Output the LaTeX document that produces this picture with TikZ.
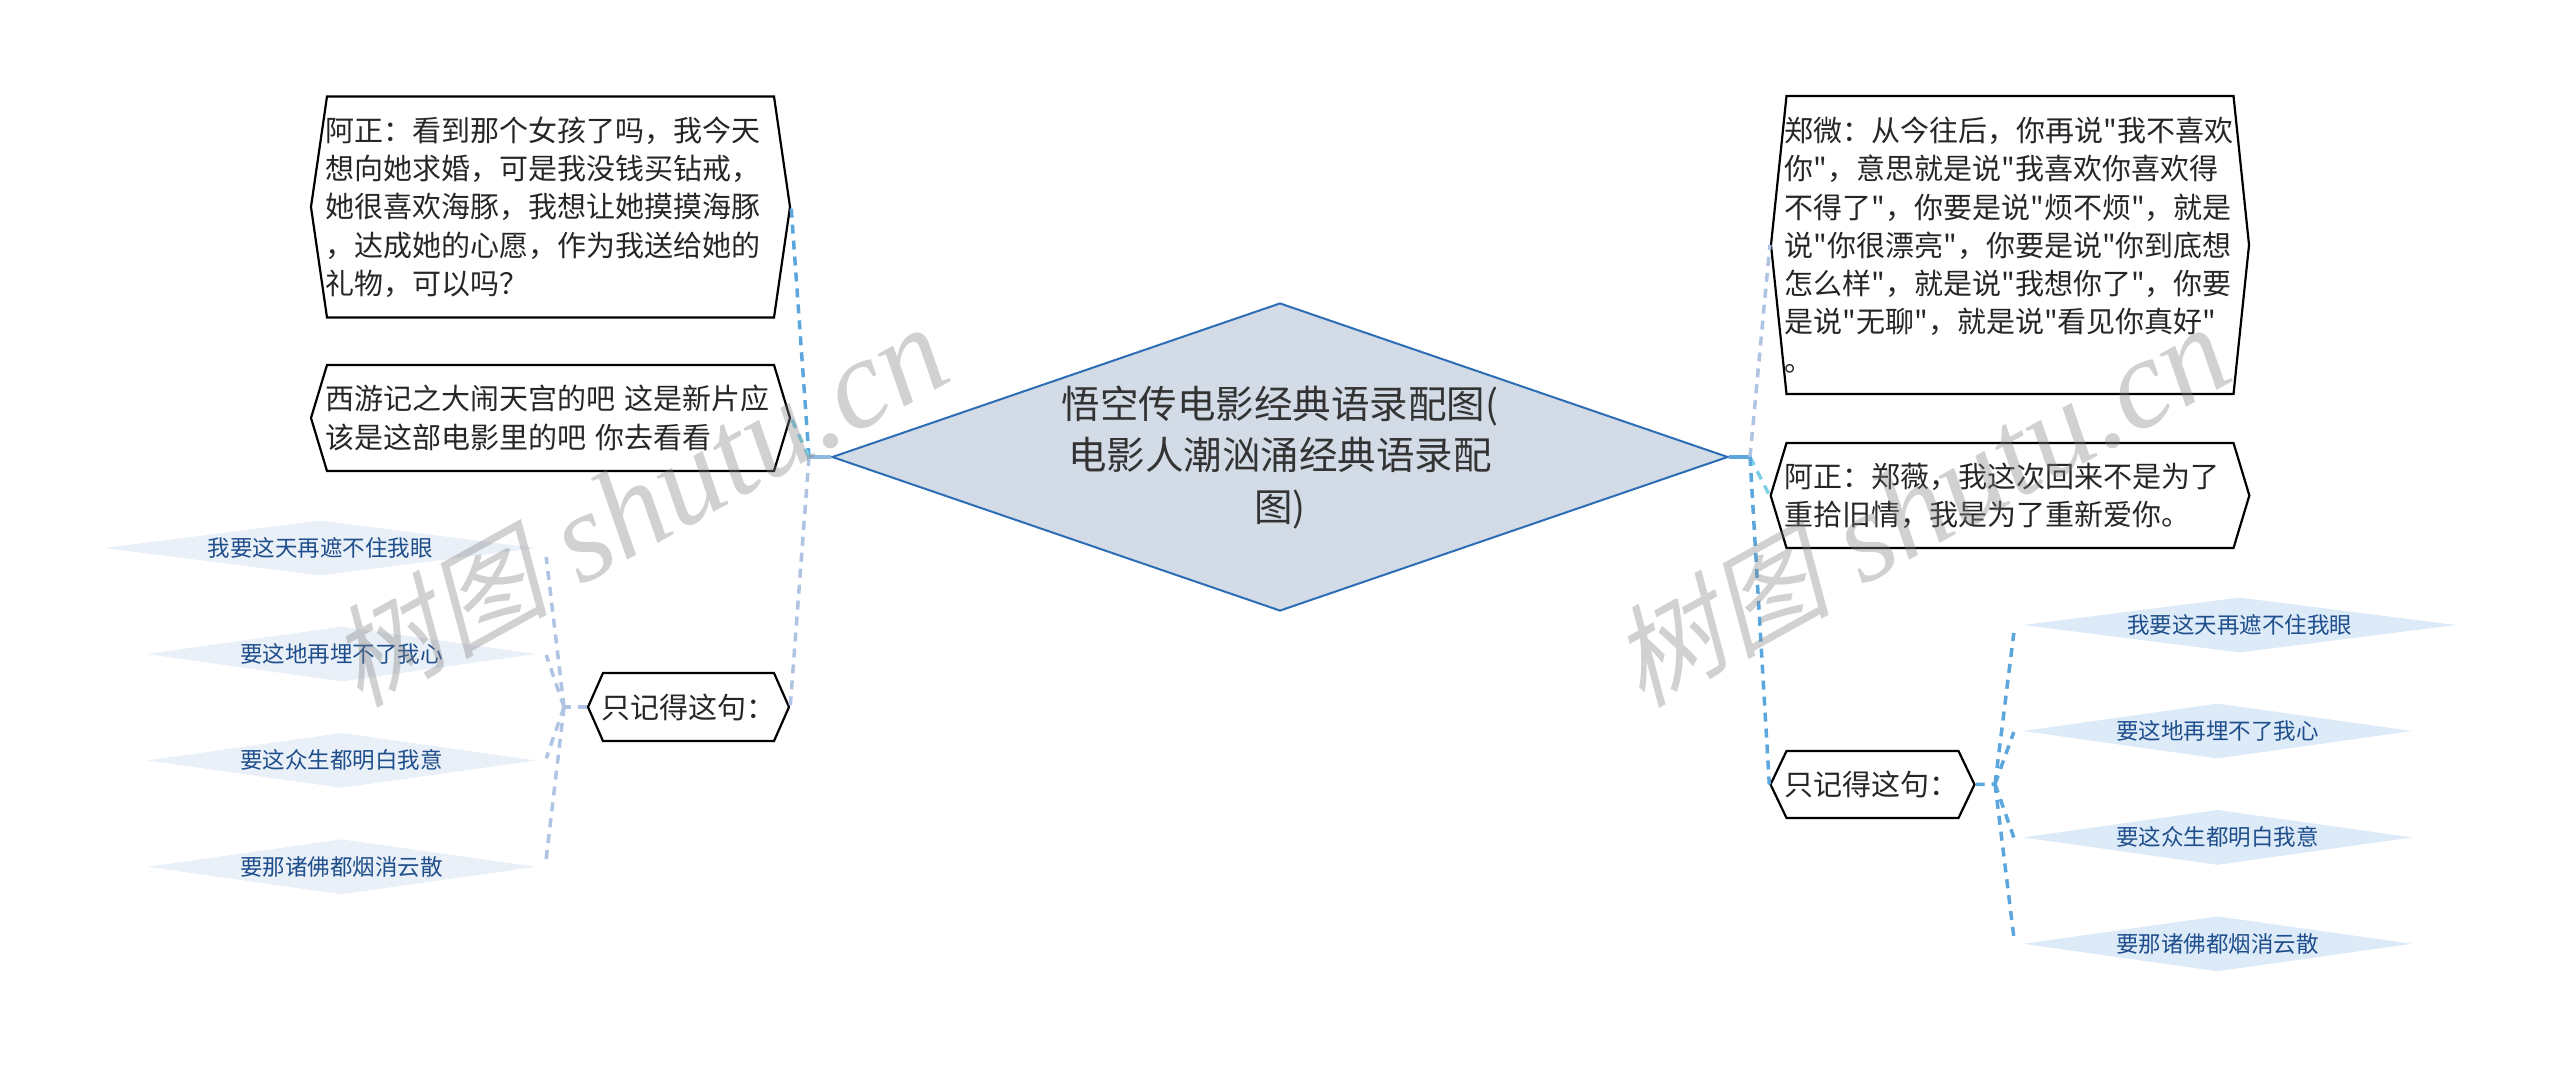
\documentclass[tikz,border=0pt]{standalone}
\usepackage{fontspec}
\usepackage{tikz}
\usetikzlibrary{positioning,shapes.geometric,shapes.symbols}
\newfontfamily\cjk{Noto Sans CJK SC}
\newfontfamily\cjkslant[FakeSlant=.25]{Noto Sans CJK SC}
\newfontfamily\wmlatin{Liberation Serif}
\definecolor{rootfill}{HTML}{D3DBE6}
\definecolor{rootline}{HTML}{2D6DB5}
\definecolor{linkA}{HTML}{5BA6DC}
\definecolor{linkB}{HTML}{7CCFE6}
\definecolor{linkC}{HTML}{AFC4E2}
\definecolor{leafL}{HTML}{EAF0F8}
\definecolor{leafR}{HTML}{DDEBF8}
\definecolor{leaftext}{HTML}{1F4E8C}
\newcommand{\markline}{{\fontsize{110}{120}\selectfont\cjkslant 树图}\hspace{32pt}{\wmlatin\itshape\fontsize{128}{120}\selectfont shutu.cn}}
\tikzset{
  root node/.style={diamond,aspect=2.9,fill=rootfill,draw=rootline,line width=2pt,inner sep=0pt,
    minimum width=896pt,minimum height=308pt,align=center,text=black!80,
    font=\cjk\fontsize{38.5}{51.5}\selectfont},
  hex node/.style={signal,signal to=east and west,draw=black,line width=2.2pt,inner ysep=0pt,inner xsep=-2pt,
    align=left,text=black!85,font=\cjk\fontsize{29}{38.3}\selectfont},
  leaf node/.style={diamond,aspect=7,inner sep=-20pt,minimum height=55pt,text=leaftext,
    font=\cjk\fontsize{22.5}{28}\selectfont},
  stem/.style={line width=4pt,#1},
  link/.style={dashed,dash pattern=on 9pt off 7pt,line width=3.5pt,#1},
  mark text/.style={rotate=29,text=gray,text opacity=.36}
}
\begin{document}
\begin{tikzpicture}[x=1pt,y=-1pt]
\useasboundingbox (0,0) rectangle (2560,1068);
\node[root node] (root) at (1280,457) {悟空传电影经典语录配图(\\电影人潮汹涌经典语录配\\图)};
% left side
\node[hex node,text width=451pt,minimum width=479pt,minimum height=221pt,signal pointer angle=163.5] (la) at (550.5,207)
  {阿正：看到那个女孩了吗，我今天\\想向她求婚，可是我没钱买钻戒，\\她很喜欢海豚，我想让她摸摸海豚\\，达成她的心愿，作为我送给她的\\礼物，可以吗？};
\node[hex node,text width=451pt,minimum width=479pt,minimum height=106pt,signal pointer angle=146.4] (lb) at (550.5,418)
  {西游记之大闹天宫的吧 这是新片应\\该是这部电影里的吧 你去看看};
\node[hex node,text width=174pt,minimum width=201pt,minimum height=68pt,signal pointer angle=132.4] (lc) at (688.5,707) {只记得这句：};
\node[leaf node,fill=leafL,minimum width=432pt] (la1) at (320,548) {我要这天再遮不住我眼};
\node[leaf node,fill=leafL,minimum width=389pt] (la2) at (341.5,654) {要这地再埋不了我心};
\node[leaf node,fill=leafL,minimum width=389pt] (la3) [below = 51pt of la2] {要这众生都明白我意};
\node[leaf node,fill=leafL,minimum width=389pt] (la4) [below = 51pt of la3] {要那诸佛都烟消云散};
% right side
\node[hex node,text width=451pt,minimum width=478pt,minimum height=298pt,signal pointer angle=168.1] (ra) at (2010,245)
  {郑微：从今往后，你再说"我不喜欢\\你"，意思就是说"我喜欢你喜欢得\\不得了"，你要是说"烦不烦"，就是\\说"你很漂亮"，你要是说"你到底想\\怎么样"，就是说"我想你了"，你要\\是说"无聊"，就是说"看见你真好"\\。};
\node[hex node,text width=451pt,minimum width=478pt,minimum height=105pt,signal pointer angle=146.4] (rb) at (2010,495.5)
  {阿正：郑薇，我这次回来不是为了\\重拾旧情，我是为了重新爱你。};
\node[hex node,text width=176pt,minimum width=203pt,minimum height=67pt,signal pointer angle=129] (rc) at (1872.5,784.5) {只记得这句：};
\node[leaf node,fill=leafR,minimum width=433pt] (ra1) at (2239.5,625) {我要这天再遮不住我眼};
\node[leaf node,fill=leafR,minimum width=389pt] (ra2) at (2217.5,731) {要这地再埋不了我心};
\node[leaf node,fill=leafR,minimum width=389pt] (ra3) [below = 51pt of ra2] {要这众生都明白我意};
\node[leaf node,fill=leafR,minimum width=389pt] (ra4) [below = 51pt of ra3] {要那诸佛都烟消云散};
\coordinate (lj) at (809,457);
\coordinate (rj) at (1750,457);
\coordinate (lk) at (564,707);
\coordinate (rk) at (1995,784);

\path[draw,stem=linkC!60!linkA] (root.west) -- (lj);
\path[draw,stem=linkA] (root.east) -- (rj);
\path[draw,link=linkA] (lj) edge (la.east);
\path[draw,link=linkB] (lj) edge (lb.east);
\path[draw,link=linkC] (lj) edge (lc.east);
\path[draw,link=linkC]
(lc.west) edge (lk)
(lk) edge ([shift={(10,9)}]la1.east)
(lk) edge ([shift={(10,1)}]la2.east)
(lk) edge ([shift={(10,-2)}]la3.east)
(lk) edge ([shift={(10,-8)}]la4.east);
\path[draw,link=linkC] (rj) edge (ra.west);
\path[draw,link=linkB] (rj) edge (rb.west);
\path[draw,link=linkA] (rj) edge (rc.west);
\path[draw,link=linkA]
(rc.east) edge (rk)
(rk) edge ([shift={(-9,8)}]ra1.west)
(rk) edge ([shift={(-9,1)}]ra2.west)
(rk) edge ([shift={(-9,0)}]ra3.west)
(rk) edge ([shift={(-9,-7)}]ra4.west);
% watermarks
\node[mark text] (ml) at (638,507) {\markline};
\node[mark text] (mr) at (1920,507) {\markline};
\end{tikzpicture}
\end{document}
